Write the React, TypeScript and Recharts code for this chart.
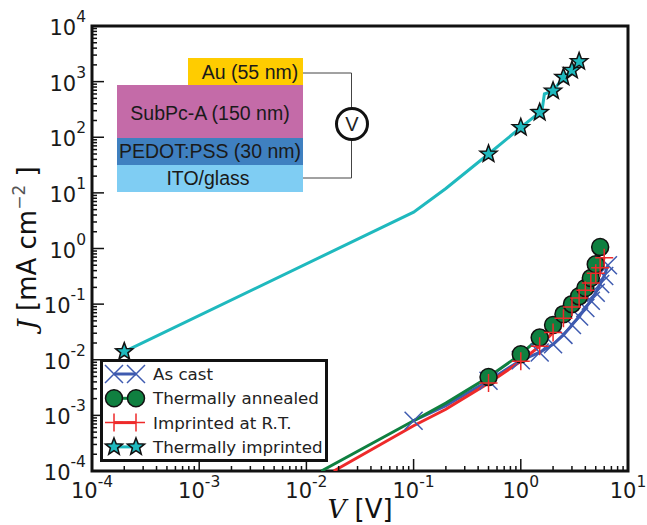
import { ComposedChart, Line, XAxis, YAxis, ReferenceArea, Label, Legend } from "recharts";

const decades = [-4, -3, -2, -1, 0];
const minorSteps = [2, 3, 4, 5, 6, 7, 8, 9];
const xMajor = [1e-4, 1e-3, 1e-2, 1e-1, 1, 10];
const yMajor = [1e-4, 1e-3, 1e-2, 1e-1, 1, 10, 100, 1000, 10000];
const yDecades = [-4, -3, -2, -1, 0, 1, 2, 3];

const xMinor = decades.flatMap((d) => minorSteps.map((m) => m * 10 ** d));
const yMinor = yDecades.flatMap((d) => minorSteps.map((m) => m * 10 ** d));

const castV = [0.1, 0.2, 0.5, 1, 1.5, 2, 2.5, 3, 3.5, 4, 4.5, 5, 5.5, 6, 6.5];
const castJ = [8e-4, 1.5e-3, 4.2e-3, 0.0098, 0.0135, 0.019, 0.028, 0.042, 0.06, 0.085, 0.115, 0.16, 0.23, 0.32, 0.5];
const castMarked = [0.1, 0.5, 1, 1.5, 2, 2.5, 3, 3.5, 4, 4.5, 5, 5.5, 6, 6.5];

const annealedV = [0.0138, 0.1, 0.2, 0.5, 1, 1.5, 2, 2.5, 3, 3.5, 4, 4.5, 5, 5.5];
const annealedJ = [1e-4, 8e-4, 1.66e-3, 4.9e-3, 0.0126, 0.025, 0.042, 0.066, 0.1, 0.138, 0.195, 0.295, 0.52, 1.06];
const annealedMarked = [0.5, 1, 1.5, 2, 2.5, 3, 3.5, 4, 4.5, 5, 5.5];

const rtV = [0.018, 0.1, 0.2, 0.5, 1, 1.5, 2, 2.5, 3, 3.5, 4, 4.5, 5, 5.5, 6];
const rtJ = [1e-4, 6.5e-4, 1.29e-3, 3.8e-3, 0.0094, 0.0175, 0.031, 0.056, 0.089, 0.129, 0.178, 0.24, 0.36, 0.45, 0.68];
const rtMarked = [0.5, 1, 1.5, 2, 2.5, 3, 3.5, 4, 4.5, 5, 5.5, 6];

const imprintedV = [2e-4, 0.1, 0.2, 0.5, 1, 1.5, 1.58, 1.66, 2, 2.5, 3, 3.5];
const imprintedJ = [0.014, 4.5, 12, 50, 150, 280, 310, 600, 680, 1200, 1600, 2300];
const imprintedMarked = [2e-4, 0.5, 1, 1.5, 2, 2.5, 3, 3.5];

const seriesNames = ["As cast", "Thermally annealed", "Imprinted at R.T.", "Thermally imprinted"];

const BLUE = "#3f5bb0";
const GREEN = "#0f8040";
const RED = "#ee2a2a";
const TEAL = "#1fb9be";

const toRows = (vs: number[], js: number[]) => vs.map((v, i) => ({ v, j: js[i] }));

const starPath = (cx: number, cy: number, r: number) => {
  let d = "";
  for (let i = 0; i < 10; i++) {
    const rad = i % 2 === 0 ? r : r * 0.42;
    const a = -Math.PI / 2 + (i * Math.PI) / 5;
    d += `${i === 0 ? "M" : "L"}${cx + rad * Math.cos(a)},${cy + rad * Math.sin(a)}`;
  }
  return d + "Z";
};

const XMark = ({ cx, cy }: any) => (
  <path d={`M${cx - 9},${cy - 9}L${cx + 9},${cy + 9}M${cx - 9},${cy + 9}L${cx + 9},${cy - 9}`} stroke={BLUE} strokeWidth={1.5} fill="none" />
);
const CircleMark = ({ cx, cy }: any) => <circle cx={cx} cy={cy} r={8.5} fill={GREEN} stroke="#111" strokeWidth={1.5} />;
const PlusMark = ({ cx, cy }: any) => (
  <path d={`M${cx - 9},${cy}L${cx + 9},${cy}M${cx},${cy - 9}L${cx},${cy + 9}`} stroke={RED} strokeWidth={1.5} fill="none" />
);
const StarMark = ({ cx, cy }: any) => <path d={starPath(cx, cy, 9)} fill={TEAL} stroke="#111" strokeWidth={1.5} />;

const legendMarks = [XMark, CircleMark, PlusMark, StarMark];
const legendColors = [BLUE, GREEN, RED, TEAL];

const PowerTick = ({ x, y, payload, side, majors }: any) => {
  const major = majors.includes(payload.value);
  const len = major ? 12 : 5;
  const exp = Math.round(Math.log10(payload.value));
  const tickLine =
    side === "x" ? <line x1={x} x2={x} y1={y} y2={y - len} stroke="#111" strokeWidth={1.5} /> : <line x1={x} x2={x + len} y1={y} y2={y} stroke="#111" strokeWidth={1.5} />;
  if (!major) return <g>{tickLine}</g>;
  const style = { fontFamily: "DejaVu Sans", fill: "#1a1a1a" };
  return (
    <g>
      {tickLine}
      {side === "x" ? (
        <text x={x} y={y + 27} textAnchor="middle" style={style} fontSize={21}>
          10<tspan dy={-11} fontSize={15.5}>{exp}</tspan>
        </text>
      ) : (
        <text x={x - 6} y={y + 9} textAnchor="end" style={style} fontSize={21}>
          10<tspan dy={-13} fontSize={15.5}>{exp}</tspan>
        </text>
      )}
    </g>
  );
};

const markedDot = (marked: number[], Mark: any) => (p: any) =>
  marked.includes(p.payload.v) ? <Mark key={p.index} cx={p.cx} cy={p.cy} /> : <g key={p.index} />;

const LegendBox = () => (
  <svg width={228} height={103} style={{ display: "block" }}>
    <rect x={1.5} y={1.5} width={225} height={100} fill="#fff" stroke="#111" strokeWidth={3} />
    {seriesNames.map((name, i) => {
      const Mark = legendMarks[i];
      const y = 15 + i * 24.3;
      return (
        <g key={name}>
          <line x1={14} x2={36} y1={y} y2={y} stroke={legendColors[i]} strokeWidth={3} />
          <Mark cx={14} cy={y} />
          <Mark cx={36} cy={y} />
          <text x={53} y={y + 6} fontFamily="DejaVu Sans" fontSize={16.7} fill="#222">
            {name}
          </text>
        </g>
      );
    })}
  </svg>
);

const XTitle = () => (
  <text x={360} y={518} textAnchor="middle" fontSize={26} fill="#111" fontFamily="DejaVu Sans">
    <tspan fontStyle="italic" fontFamily="DejaVu Serif">V</tspan> [V]
  </text>
);

const YTitle = () => (
  <text x={36} y={248} transform="rotate(-90 36 248)" textAnchor="middle" fontSize={26} fill="#111" fontFamily="DejaVu Sans">
    <tspan fontStyle="italic" fontFamily="DejaVu Serif">J</tspan> [mA cm<tspan dy={-11} fontSize={17} fill="#555">−2</tspan>
    <tspan dy={11}> ]</tspan>
  </text>
);

// device stack drawn over the plot, not data
const Schematic = () => (
  <svg width={647} height={525} style={{ position: "absolute", left: 0, top: 0, pointerEvents: "none" }}>
    <path d="M303,73H351.5V178H303" fill="none" stroke="#444" strokeWidth={1} />
    <circle cx={352} cy={124} r={15.5} fill="#fff" stroke="#111" strokeWidth={3} />
    <text x={352} y={131} textAnchor="middle" fontSize={20} fontFamily="Liberation Sans" fill="#222">V</text>
    <rect x={188} y={58} width={115} height={27} fill="#ffcc00" />
    <rect x={117} y={85} width={186} height={53} fill="#c46ba8" />
    <rect x={117} y={138} width={186} height={27} fill="#3f80c0" />
    <rect x={117} y={165} width={186} height={27} fill="#7fcdf3" />
    <g fontFamily="Liberation Sans" fontSize={19.5} fill="#1a1a1a" textAnchor="middle">
      <text x={250} y={79}>Au (55 nm)</text>
      <text x={210} y={120}>SubPc-A (150 nm)</text>
      <text x={210} y={158}>PEDOT:PSS (30 nm)</text>
      <text x={208} y={185}>ITO/glass</text>
    </g>
  </svg>
);

export default function App() {
  return (
    <div style={{ position: "absolute", left: 0, top: 0, width: 647, height: 525, background: "#fff", overflow: "hidden" }}>
      <ComposedChart width={647} height={525} margin={{ top: 26, right: 19, bottom: 0, left: 0 }}>
        <XAxis
          xAxisId={0}
          type="number"
          dataKey="v"
          scale="log"
          domain={[1e-4, 10]}
          allowDataOverflow
          ticks={[...xMajor, ...xMinor]}
          interval={0}
          height={54}
          tickSize={0}
          tickMargin={0}
          axisLine={false}
          tick={<PowerTick side="x" majors={xMajor} />}
        >
          <Label content={<XTitle />} />
        </XAxis>
        <YAxis
          yAxisId={0}
          type="number"
          dataKey="j"
          scale="log"
          domain={[1e-4, 1e4]}
          allowDataOverflow
          ticks={[...yMajor, ...yMinor]}
          interval={0}
          width={92}
          tickSize={0}
          tickMargin={0}
          axisLine={false}
          tick={<PowerTick side="y" majors={yMajor} />}
        >
          <Label content={<YTitle />} />
        </YAxis>
        <Line data={toRows(castV, castJ)} dataKey="j" name={seriesNames[0]} stroke={BLUE} strokeWidth={3} dot={markedDot(castMarked, XMark)} isAnimationActive={false} />
        <Line data={toRows(annealedV, annealedJ)} dataKey="j" name={seriesNames[1]} stroke={GREEN} strokeWidth={3} dot={markedDot(annealedMarked, CircleMark)} isAnimationActive={false} />
        <Line data={toRows(rtV, rtJ)} dataKey="j" name={seriesNames[2]} stroke={RED} strokeWidth={3} dot={markedDot(rtMarked, PlusMark)} isAnimationActive={false} />
        <Line data={toRows(imprintedV, imprintedJ)} dataKey="j" name={seriesNames[3]} stroke={TEAL} strokeWidth={3} dot={markedDot(imprintedMarked, StarMark)} isAnimationActive={false} />
        <ReferenceArea x1={1e-4} x2={10} y1={1e-4} y2={1e4} fill="none" stroke="#111" strokeWidth={3} ifOverflow="visible" />
        <Legend layout="vertical" align="center" verticalAlign="middle" wrapperStyle={{ left: 100, top: 359, width: 228, height: 103 }} content={<LegendBox />} />
      </ComposedChart>
      <Schematic />
    </div>
  );
}
